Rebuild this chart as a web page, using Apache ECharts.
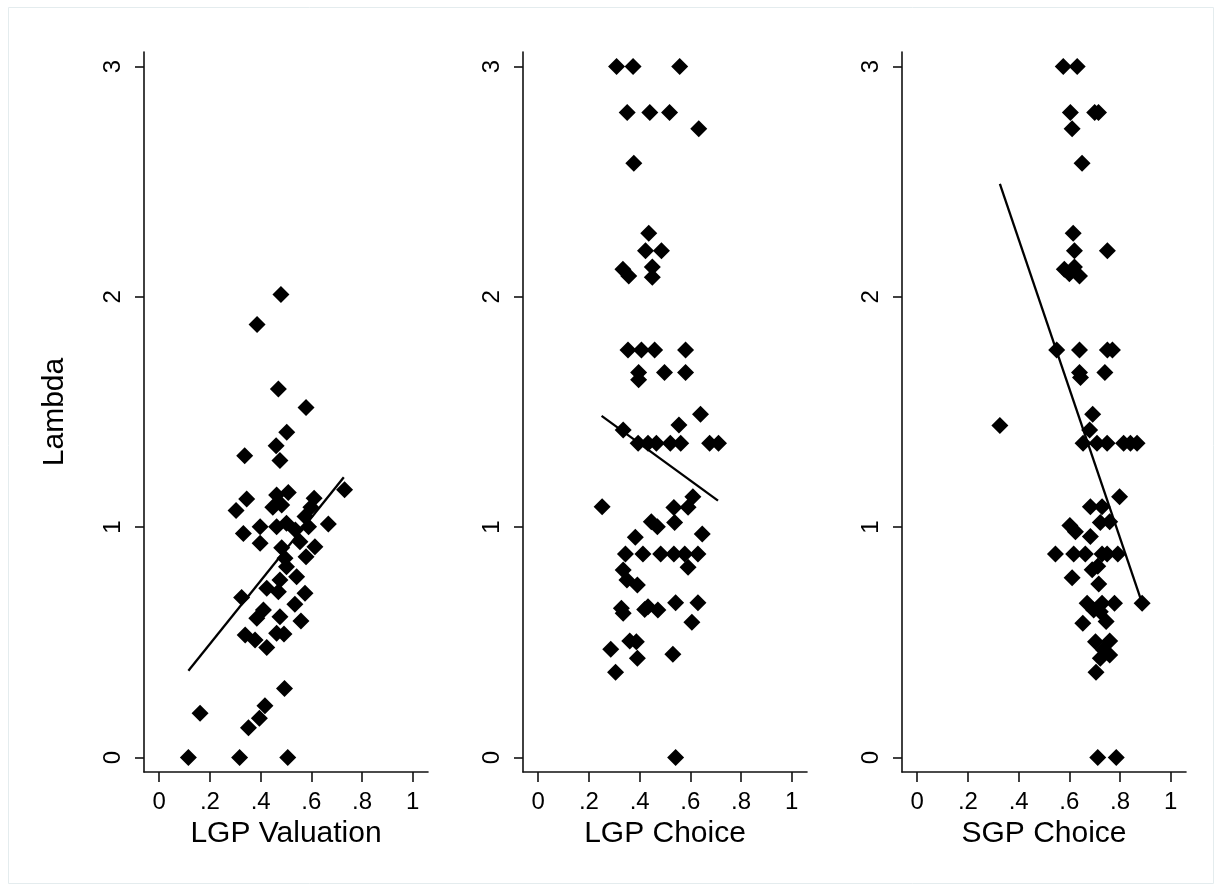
<!DOCTYPE html>
<html><head><meta charset="utf-8">
<script src="https://cdn.jsdelivr.net/npm/echarts@6/dist/echarts.min.js"></script>
<style>html,body{margin:0;padding:0;background:#fff}#c{width:1222px;height:892px}</style>
</head><body><div id="c"></div>
<script>
// ---------- data ----------
const panelTitles = ['LGP Valuation', 'LGP Choice', 'SGP Choice'];
const xTicks = [0, 0.2, 0.4, 0.6, 0.8, 1];
const yTicks = [0, 1, 2, 3];
const yName = 'Lambda';

const lgpValPoints = [
  [0.115,0],[0.317,0],[0.507,0],[0.161,0.192],[0.352,0.129],[0.395,0.17],[0.417,0.225],[0.494,0.30],
  [0.424,0.478],[0.339,0.532],[0.378,0.51],[0.463,0.539],[0.492,0.536],[0.385,0.604],[0.411,0.64],
  [0.476,0.611],[0.559,0.593],[0.535,0.665],[0.325,0.695],[0.575,0.713],[0.424,0.735],[0.47,0.72],
  [0.476,0.771],[0.542,0.785],[0.502,0.828],[0.496,0.865],[0.579,0.872],[0.398,0.93],[0.483,0.911],
  [0.555,0.937],[0.614,0.915],[0.332,0.973],[0.398,1.002],[0.463,1.002],[0.502,1.017],[0.537,0.988],
  [0.589,1.002],[0.667,1.014],[0.575,1.046],[0.448,1.086],[0.483,1.096],[0.598,1.086],[0.303,1.072],
  [0.345,1.122],[0.463,1.14],[0.509,1.15],[0.611,1.125],[0.731,1.162],[0.476,1.289],[0.337,1.31],
  [0.461,1.353],[0.503,1.412],[0.579,1.519],[0.47,1.60],[0.386,1.88],[0.48,2.01]
];
const lgpChoicePoints = [
  [0.309,3],[0.374,3],[0.558,3],[0.351,2.8],[0.44,2.8],[0.518,2.8],[0.633,2.73],[0.377,2.58],
  [0.436,2.276],[0.423,2.2],[0.486,2.2],[0.45,2.13],[0.45,2.085],[0.334,2.12],[0.357,2.09],
  [0.354,1.769],[0.407,1.769],[0.459,1.769],[0.581,1.769],[0.396,1.671],[0.498,1.671],[0.581,1.671],
  [0.396,1.64],[0.64,1.49],[0.555,1.444],[0.335,1.422],
  [0.394,1.364],[0.433,1.364],[0.466,1.364],[0.521,1.364],[0.562,1.364],[0.676,1.364],[0.711,1.364],
  [0.252,1.089],[0.61,1.132],[0.591,1.086],[0.535,1.085],[0.446,1.024],[0.47,1.002],[0.538,1.02],
  [0.647,0.97],[0.383,0.956],
  [0.344,0.884],[0.413,0.884],[0.483,0.884],[0.535,0.884],[0.578,0.884],[0.63,0.884],
  [0.591,0.826],[0.335,0.814],[0.35,0.771],[0.391,0.749],[0.328,0.648],[0.335,0.626],
  [0.42,0.643],[0.433,0.655],[0.472,0.64],[0.542,0.672],[0.63,0.672],[0.606,0.587],
  [0.361,0.506],[0.387,0.503],[0.286,0.47],[0.391,0.431],[0.531,0.448],[0.305,0.37],[0.542,0]
];
const sgpChoicePoints = [
  [0.576,3],[0.631,3],[0.604,2.8],[0.70,2.8],[0.715,2.8],[0.611,2.73],[0.65,2.58],[0.615,2.276],
  [0.62,2.2],[0.75,2.2],[0.58,2.12],[0.60,2.10],[0.62,2.13],[0.64,2.09],
  [0.55,1.769],[0.64,1.769],[0.75,1.769],[0.77,1.769],[0.64,1.671],[0.74,1.671],[0.644,1.65],
  [0.326,1.441],[0.692,1.49],[0.68,1.422],
  [0.654,1.364],[0.709,1.364],[0.749,1.364],[0.814,1.364],[0.841,1.364],[0.867,1.364],
  [0.798,1.132],[0.683,1.089],[0.729,1.089],[0.722,1.02],[0.759,1.024],[0.602,1.007],[0.624,0.98],
  [0.683,0.959],
  [0.545,0.884],[0.617,0.884],[0.663,0.884],[0.729,0.884],[0.749,0.884],[0.791,0.884],
  [0.69,0.815],[0.712,0.83],[0.611,0.78],[0.716,0.753],[0.887,0.67],[0.67,0.67],[0.729,0.67],
  [0.778,0.67],[0.696,0.64],[0.722,0.633],[0.653,0.583],[0.745,0.59],[0.703,0.503],[0.759,0.506],
  [0.735,0.467],[0.759,0.445],[0.722,0.431],[0.705,0.37],[0.712,0],[0.785,0]
];
const lgpValFit = [[0.115,0.377],[0.728,1.217]];
const lgpChoiceFit = [[0.25,1.483],[0.709,1.115]];
const sgpChoiceFit = [[0.326,2.49],[0.887,0.67]];

const pointSets = [lgpValPoints, lgpChoicePoints, sgpChoicePoints];
const fitSets = [lgpValFit, lgpChoiceFit, sgpChoiceFit];

// ---------- chart ----------
const FONT = 'Liberation Sans, Arial, sans-serif';
const lefts = [144, 523, 902];
const grids = lefts.map(l => ({left: l, top: 52, width: 284, height: 720}));
const axisLineStyle = {color: '#111', width: 1.6};
const fmtX = v => v === 0 ? '0' : (v === 1 ? '1' : '.' + Math.round(v * 10));

const xAxes = panelTitles.map((t, i) => ({
  type: 'value', gridIndex: i, min: -0.06, max: 1.06,
  axisLine: {show: true, onZero: false, lineStyle: axisLineStyle},
  axisTick: {show: true, length: 10, lineStyle: axisLineStyle, customValues: xTicks},
  axisLabel: {customValues: xTicks, formatter: fmtX, fontSize: 24, color: '#000', fontFamily: FONT, margin: 18},
  splitLine: {show: false},
  name: t, nameLocation: 'middle', nameGap: 43,
  nameTextStyle: {fontSize: 30, color: '#000', fontFamily: FONT}
}));
const yAxes = panelTitles.map((t, i) => ({
  type: 'value', gridIndex: i, min: -0.063, max: 3.063,
  axisLine: {show: true, onZero: false, lineStyle: axisLineStyle},
  axisTick: {show: true, length: 9, lineStyle: axisLineStyle, customValues: yTicks},
  axisLabel: {customValues: yTicks, rotate: 90, fontSize: 24, color: '#000', fontFamily: FONT, margin: 19},
  splitLine: {show: false},
  name: i === 0 ? yName : '', nameLocation: 'middle', nameGap: 74, nameRotate: 90,
  nameTextStyle: {fontSize: 30, color: '#000', fontFamily: FONT}
}));

const series = [];
pointSets.forEach((pts, i) => {
  series.push({
    type: 'scatter', xAxisIndex: i, yAxisIndex: i, data: pts,
    symbol: 'diamond', symbolSize: 17, itemStyle: {color: '#000', opacity: 1}, silent: true, z: 2
  });
  series.push({
    type: 'line', xAxisIndex: i, yAxisIndex: i, data: fitSets[i],
    symbol: 'none', lineStyle: {color: '#000', width: 2.3}, silent: true, z: 3
  });
});

const chart = echarts.init(document.getElementById('c'), null, {renderer: 'canvas'});
chart.setOption({
  animation: false,
  backgroundColor: '#fff',
  grid: grids,
  xAxis: xAxes,
  yAxis: yAxes,
  series: series,
  graphic: [{
    type: 'rect', shape: {x: 8.5, y: 7.5, width: 1205, height: 876},
    style: {fill: 'none', stroke: '#e4ecee', lineWidth: 1}, silent: true
  }]
});
</script></body></html>
